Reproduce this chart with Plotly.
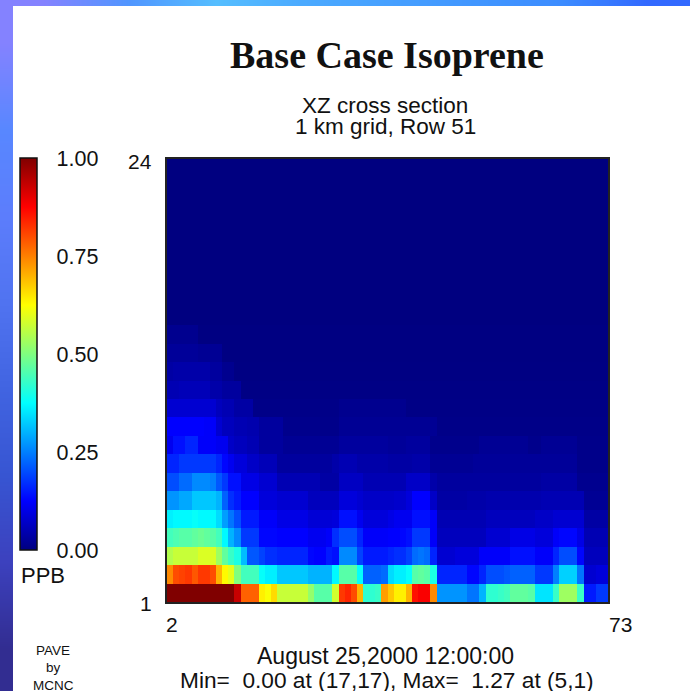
import plotly.graph_objects as go

WIDTH, HEIGHT = 690, 691
columns = list(range(2, 74))
layers = list(range(1, 25))

row_01 = [1.10,1.12,1.20,1.27,1.20,1.15,1.12,1.10,1.08,1.05,1.02,0.93,
          0.78,0.78,0.78,0.64,0.62,0.66,0.57,0.57,0.57,0.57,0.57,0.52,
          0.46,0.46,0.46,0.58,0.82,0.84,0.80,0.70,0.42,0.42,0.43,0.72,
          0.68,0.64,0.64,0.70,0.86,0.88,0.88,0.74,0.27,0.27,0.27,0.27,
          0.27,0.24,0.24,0.30,0.42,0.42,0.43,0.44,0.47,0.47,0.47,0.46,
          0.35,0.35,0.35,0.43,0.53,0.53,0.53,0.43,0.15,0.15,0.18,0.18]
row_02 = [0.74,0.80,0.81,0.82,0.79,0.82,0.82,0.80,0.70,0.63,0.60,0.50,
          0.44,0.44,0.44,0.38,0.36,0.36,0.32,0.32,0.32,0.32,0.32,0.30,
          0.30,0.30,0.30,0.37,0.46,0.46,0.46,0.38,0.22,0.22,0.22,0.23,
          0.34,0.36,0.36,0.38,0.46,0.47,0.46,0.40,0.16,0.16,0.16,0.16,
          0.16,0.13,0.13,0.16,0.20,0.20,0.20,0.21,0.22,0.22,0.22,0.22,
          0.18,0.18,0.18,0.25,0.33,0.33,0.33,0.24,0.08,0.08,0.09,0.09]
row_03 = [0.55,0.57,0.57,0.57,0.57,0.59,0.59,0.59,0.53,0.47,0.43,0.40,
          0.31,0.21,0.21,0.19,0.17,0.17,0.16,0.16,0.16,0.16,0.16,0.13,
          0.125,0.125,0.15,0.14,0.26,0.26,0.26,0.19,0.15,0.15,0.15,0.15,
          0.16,0.17,0.17,0.19,0.23,0.24,0.23,0.16,0.08,0.08,0.08,0.09,
          0.09,0.09,0.09,0.12,0.12,0.12,0.12,0.12,0.14,0.14,0.14,0.14,
          0.12,0.12,0.12,0.16,0.20,0.20,0.20,0.13,0.06,0.06,0.06,0.06]
row_04 = [0.44,0.45,0.46,0.46,0.47,0.48,0.47,0.46,0.44,0.37,0.30,0.26,
          0.18,0.18,0.18,0.13,0.13,0.13,0.125,0.125,0.125,0.125,0.125,0.11,
          0.11,0.11,0.12,0.17,0.20,0.20,0.20,0.16,0.12,0.12,0.12,0.12,
          0.125,0.125,0.13,0.14,0.18,0.18,0.18,0.12,0.06,0.06,0.06,0.06,
          0.06,0.06,0.06,0.06,0.08,0.08,0.08,0.08,0.10,0.10,0.10,0.10,
          0.09,0.09,0.09,0.12,0.13,0.13,0.13,0.10,0.05,0.05,0.05,0.05]
row_05 = [0.36,0.37,0.37,0.37,0.38,0.37,0.37,0.37,0.34,0.28,0.24,0.20,
          0.15,0.15,0.15,0.12,0.12,0.12,0.10,0.10,0.10,0.10,0.10,0.085,
          0.085,0.085,0.085,0.09,0.14,0.14,0.14,0.11,0.09,0.09,0.09,0.09,
          0.10,0.11,0.11,0.11,0.14,0.14,0.14,0.12,0.05,0.05,0.05,0.05,
          0.05,0.05,0.05,0.05,0.06,0.06,0.06,0.06,0.06,0.06,0.06,0.06,
          0.07,0.07,0.07,0.08,0.08,0.08,0.08,0.08,0.035,0.035,0.035,0.035]
row_06 = [0.27,0.27,0.29,0.29,0.32,0.32,0.32,0.32,0.30,0.22,0.17,0.15,
          0.125,0.125,0.125,0.09,0.09,0.09,0.08,0.08,0.08,0.08,0.08,0.06,
          0.06,0.06,0.06,0.06,0.09,0.09,0.09,0.08,0.07,0.07,0.07,0.07,
          0.07,0.075,0.075,0.09,0.125,0.125,0.125,0.07,0.035,0.035,0.035,0.035,
          0.035,0.04,0.04,0.04,0.045,0.045,0.045,0.045,0.045,0.045,0.045,0.045,
          0.045,0.05,0.05,0.05,0.05,0.05,0.05,0.05,0.02,0.02,0.02,0.02]
row_07 = [0.20,0.20,0.23,0.23,0.26,0.26,0.26,0.25,0.21,0.18,0.14,0.14,
          0.10,0.10,0.10,0.08,0.08,0.08,0.05,0.05,0.05,0.05,0.05,0.05,
          0.05,0.035,0.035,0.035,0.065,0.065,0.065,0.065,0.05,0.05,0.05,0.05,
          0.05,0.05,0.05,0.07,0.07,0.07,0.07,0.04,0.03,0.03,0.03,0.03,
          0.03,0.03,0.03,0.03,0.03,0.03,0.03,0.03,0.03,0.03,0.03,0.03,
          0.03,0.035,0.035,0.035,0.035,0.035,0.035,0.015,0.015,0.015,0.015,0.015]
row_08 = [0.16,0.16,0.18,0.18,0.18,0.18,0.18,0.18,0.16,0.13,0.11,0.09,
          0.09,0.07,0.07,0.055,0.055,0.055,0.03,0.03,0.03,0.03,0.03,0.03,
          0.03,0.03,0.03,0.04,0.05,0.05,0.05,0.04,0.04,0.04,0.04,0.04,
          0.035,0.035,0.035,0.035,0.04,0.04,0.04,0.02,0.02,0.02,0.02,0.02,
          0.02,0.02,0.025,0.025,0.025,0.025,0.025,0.025,0.025,0.025,0.025,0.025,
          0.025,0.025,0.025,0.025,0.025,0.025,0.025,0.01,0.01,0.01,0.01,0.01]
row_09 = [0.11,0.14,0.14,0.16,0.16,0.12,0.12,0.12,0.11,0.11,0.07,0.06,
          0.06,0.05,0.05,0.03,0.03,0.03,0.03,0.02,0.02,0.02,0.02,0.02,
          0.02,0.02,0.02,0.02,0.03,0.03,0.03,0.03,0.03,0.03,0.03,0.03,
          0.025,0.025,0.025,0.03,0.03,0.03,0.03,0.012,0.012,0.012,0.012,0.012,
          0.012,0.012,0.012,0.02,0.02,0.02,0.02,0.02,0.02,0.02,0.02,0.012,
          0.012,0.02,0.02,0.02,0.02,0.02,0.02,0.01,0.01,0.01,0.01,0.01]
row_10 = [0.125,0.125,0.125,0.125,0.125,0.125,0.12,0.12,0.08,0.06,0.06,0.05,
          0.05,0.045,0.045,0.03,0.03,0.03,0.03,0.012,0.012,0.012,0.012,0.012,
          0.012,0.01,0.01,0.01,0.02,0.02,0.02,0.02,0.02,0.02,0.02,0.02,
          0.02,0.02,0.02,0.02,0.02,0.02,0.02,0.02,0.008,0.008,0.008,0.008,
          0.008,0.008,0.008,0.008,0.008,0.008,0.008,0.008,0.008,0.008,0.008,0.008,
          0.008,0.008,0.008,0.008,0.008,0.008,0.008,0.008,0.008,0.008,0.008,0.008]
row_11 = [0.08,0.08,0.08,0.08,0.08,0.08,0.08,0.08,0.06,0.05,0.05,0.035,
          0.035,0.035,0.008,0.008,0.008,0.008,0.008,0.008,0.008,0.008,0.008,0.008,
          0.008,0.008,0.008,0.008,0.015,0.015,0.015,0.015,0.015,0.015,0.015,0.015,
          0.015,0.015,0.015,0.006,0.006,0.006,0.006,0.006,0.006,0.006,0.006,0.006,
          0.006,0.006,0.006,0.006,0.006,0.006,0.006,0.006,0.006,0.006,0.006,0.006,
          0.006,0.006,0.006,0.006,0.006,0.006,0.006,0.006,0.006,0.006,0.006,0.006]
row_12 = [0.05,0.05,0.055,0.055,0.055,0.055,0.055,0.04,0.04,0.03,0.03,0.03,
          0.005,0.005,0.005,0.005,0.005,0.005,0.005,0.005,0.005,0.005,0.005,0.005,
          0.005,0.005,0.005,0.005,0.005,0.005,0.005,0.005,0.005,0.005,0.005,0.005,
          0.005,0.005,0.005,0.005,0.005,0.005,0.005,0.005,0.005,0.005,0.005,0.005,
          0.005,0.005,0.005,0.005,0.005,0.005,0.005,0.005,0.005,0.005,0.005,0.005,
          0.005,0.005,0.005,0.005,0.005,0.005,0.005,0.005,0.005,0.005,0.005,0.005]
row_13 = [0.035,0.04,0.04,0.04,0.04,0.04,0.04,0.03,0.03,0.015,0.015,0.003,
          0.003,0.003,0.003,0.003,0.003,0.003,0.003,0.003,0.003,0.003,0.003,0.003,
          0.003,0.003,0.003,0.003,0.003,0.003,0.003,0.003,0.003,0.003,0.003,0.003,
          0.003,0.003,0.003,0.003,0.003,0.003,0.003,0.003,0.003,0.003,0.003,0.003,
          0.003,0.003,0.003,0.003,0.003,0.003,0.003,0.003,0.003,0.003,0.003,0.003,
          0.003,0.003,0.003,0.003,0.003,0.003,0.003,0.003,0.003,0.003,0.003,0.003]
row_14 = [0.025,0.025,0.025,0.025,0.025,0.02,0.02,0.02,0.02,0.002,0.002,0.002,
          0.002,0.002,0.002,0.002,0.002,0.002,0.002,0.002,0.002,0.002,0.002,0.002,
          0.002,0.002,0.002,0.002,0.002,0.002,0.002,0.002,0.002,0.002,0.002,0.002,
          0.002,0.002,0.002,0.002,0.002,0.002,0.002,0.002,0.002,0.002,0.002,0.002,
          0.002,0.002,0.002,0.002,0.002,0.002,0.002,0.002,0.002,0.002,0.002,0.002,
          0.002,0.002,0.002,0.002,0.002,0.002,0.002,0.002,0.002,0.002,0.002,0.002]
row_15 = [0.015,0.015,0.015,0.015,0.015,0.002,0.002,0.002,0.002,0.002,0.002,0.002,
          0.002,0.002,0.002,0.002,0.002,0.002,0.002,0.002,0.002,0.002,0.002,0.002,
          0.002,0.002,0.002,0.002,0.002,0.002,0.002,0.002,0.002,0.002,0.002,0.002,
          0.002,0.002,0.002,0.002,0.002,0.002,0.002,0.002,0.002,0.002,0.002,0.002,
          0.002,0.002,0.002,0.002,0.002,0.002,0.002,0.002,0.002,0.002,0.002,0.002,
          0.002,0.002,0.002,0.002,0.002,0.002,0.002,0.002,0.002,0.002,0.002,0.002]
row_zero = [0.0] * 72   # layers 16 to 24 read as the base colour everywhere

values = [row_01, row_02, row_03, row_04, row_05, row_06, row_07, row_08,
          row_09, row_10, row_11, row_12, row_13, row_14, row_15] + [row_zero] * 9

scale_colors = [[0.0, "rgb(0,0,128)"], [0.125, "rgb(0,0,255)"], [0.375, "rgb(0,255,255)"],
                [0.625, "rgb(255,255,0)"], [0.875, "rgb(255,0,0)"], [1.0, "rgb(128,0,0)"]]
left_frame = ["rgb(132,130,255)", "rgb(88,135,255)", "rgb(92,125,252)", "rgb(80,115,240)",
              "rgb(65,100,225)", "rgb(55,85,210)", "rgb(60,65,190)", "rgb(50,45,145)"]
top_frame = ["rgb(132,130,255)", "rgb(80,150,255)", "rgb(85,190,255)", "rgb(75,170,255)",
             "rgb(70,160,255)", "rgb(65,150,255)", "rgb(60,140,255)", "rgb(50,105,255)"]


def band(colors):
    n = len(colors) - 1
    return [[i / n, c] for i, c in enumerate(colors)]


fig = go.Figure()
fig.add_trace(go.Heatmap(
    z=[list(range(8))] * 2, xaxis="x2", yaxis="y2", colorscale=band(top_frame),
    zsmooth="best", showscale=False, hoverinfo="skip"))
fig.add_trace(go.Heatmap(
    z=[[i, i] for i in range(8)], xaxis="x3", yaxis="y3", colorscale=band(left_frame),
    zsmooth="best", showscale=False, hoverinfo="skip"))
fig.add_trace(go.Heatmap(
    x=columns, y=layers, z=values, zmin=0, zmax=1, colorscale=scale_colors,
    colorbar=dict(
        tickvals=[0, 0.25, 0.5, 0.75, 1.0], ticktext=["0.00", "0.25", "0.50", "0.75", "1.00"],
        lenmode="pixels", len=392, thicknessmode="pixels", thickness=17,
        x=20 / WIDTH, xanchor="left", y=1 - 158 / HEIGHT, yanchor="top", xpad=0, ypad=0,
        outlinecolor="#111", outlinewidth=1.5, ticks="outside", ticklen=15, tickcolor="white",
        tickfont=dict(family="Liberation Sans", size=21.5, color="#111")),
))


def px(x):
    return x / WIDTH


def py(y):
    return 1 - y / HEIGHT


def label(text, x, y, size, family="Liberation Sans", anchor="center"):
    return dict(text=text, x=px(x), y=py(y), xref="paper", yref="paper", showarrow=False,
                xanchor=anchor, yanchor="middle", align="center",
                font=dict(family=family, size=size, color="#111"))


annotations = [
    label("<b>Base Case Isoprene</b>", 387, 55, 38, "Liberation Serif"),
    label("XZ cross section", 385, 105, 22.5),
    label("1 km grid, Row 51", 385, 126, 22.5),
    label("24", 140, 161, 21),
    label("1", 146, 603, 21),
    label("2", 172, 624, 21),
    label("73", 620, 624, 21),
    label("PPB", 43, 575, 22),
    label("PAVE", 53, 650, 13.5),
    label("by", 53, 667, 13.5),
    label("MCNC", 53, 685, 13.5),
    label("August 25,2000 12:00:00", 386, 656, 23),
    label("Min=\u00a0\u00a00.00 at (17,17), Max=\u00a0\u00a01.27 at (5,1)", 387, 680, 22.7),
]

axis_line = dict(showline=True, linecolor="#222", linewidth=1.5, mirror=True, ticks="",
                 showticklabels=False, showgrid=False, zeroline=False)
hidden = dict(visible=False, fixedrange=True)

fig.update_layout(
    width=WIDTH, height=HEIGHT, margin=dict(l=0, r=0, t=0, b=0, pad=0),
    paper_bgcolor="white", plot_bgcolor="white", showlegend=False,
    annotations=annotations,
    xaxis=dict(domain=[px(167), px(608)], range=[1.5, 73.5], **axis_line),
    yaxis=dict(domain=[py(602), py(159)], range=[0.5, 24.5], **axis_line),
    xaxis2=dict(domain=[0, 1], anchor="y2", **hidden),
    yaxis2=dict(domain=[py(6), 1], anchor="x2", **hidden),
    xaxis3=dict(domain=[0, px(13)], anchor="y3", **hidden),
    yaxis3=dict(domain=[0, 1], anchor="x3", autorange="reversed", visible=False, fixedrange=True),
)

for row in values:
    assert len(row) == 72

fig.write_html("out.html", config={"displayModeBar": False},
               post_script="document.body.style.margin='0';document.body.style.overflow='hidden';")
